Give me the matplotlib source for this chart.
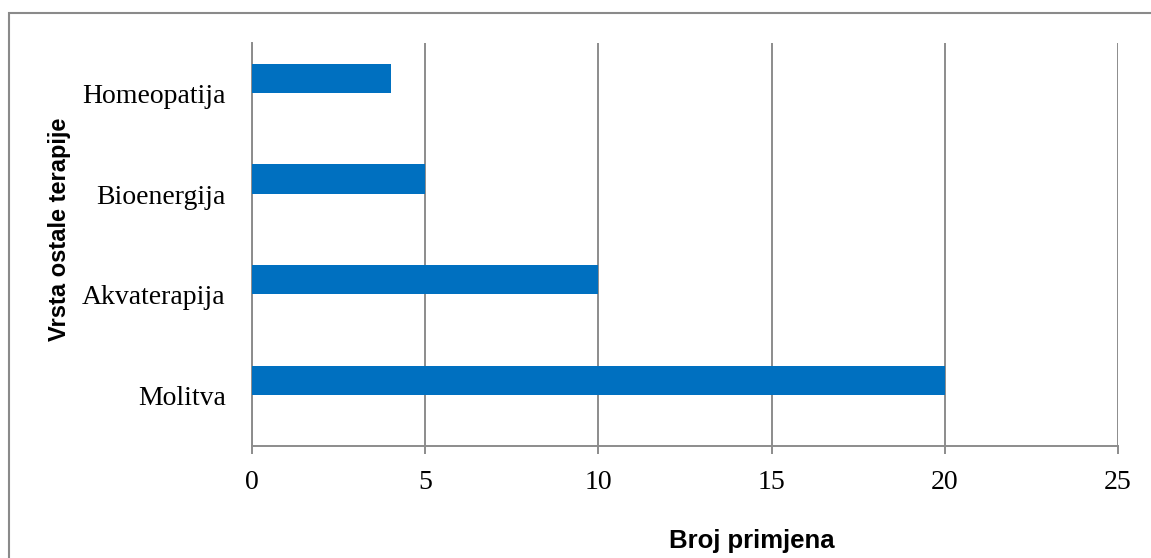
import matplotlib

matplotlib.use("Agg")
import matplotlib.pyplot as plt
from matplotlib.patches import Rectangle

W, H = 1151, 558

categories = ["Molitva", "Akvaterapija", "Bioenergija", "Homeopatija"]
counts = [20, 10, 5, 4]
x_ticks = [0, 5, 10, 15, 20, 25]

BAR_COLOR = "#0070C0"
GRID_COLOR = "#8c8c8c"
SERIF = ["Liberation Serif", "DejaVu Serif"]
SANS = ["Liberation Sans", "DejaVu Sans"]


def main():
    fig = plt.figure(figsize=(W / 100, H / 100), dpi=100)
    fig.patch.set_facecolor("white")

    # outer chart border (runs off right and bottom edges)
    top = 1 - 13.5 / H
    fig.add_artist(Rectangle(
        (8.5 / W, -0.05), 1.2, top + 0.05,
        transform=fig.transFigure, fill=False,
        edgecolor="#8a8a8a", linewidth=1.5, zorder=0,
    ))

    ax = fig.add_axes([252 / W, 1 - 446 / H, (1118 - 252) / W, (446 - 43) / H])
    ypos = list(range(len(categories)))
    # bars sit a little above the category centre (as in the original chart)
    ax.barh([p + 0.15 for p in ypos], counts, height=0.29, color=BAR_COLOR, zorder=3)

    ax.set_xlim(0, 25)
    ax.set_ylim(-0.5, len(categories) - 0.5)
    ax.set_xticks(x_ticks)
    ax.set_yticks(ypos)
    ax.set_yticklabels(categories)
    ax.xaxis.grid(True, color=GRID_COLOR, linewidth=1.4, zorder=0)
    ax.set_axisbelow(True)

    for side in ["top", "right"]:
        ax.spines[side].set_visible(False)
    for side in ["left", "bottom"]:
        ax.spines[side].set_color(GRID_COLOR)
        ax.spines[side].set_linewidth(1.4)

    ax.tick_params(axis="x", length=6, width=1.4, color=GRID_COLOR, pad=11)
    ax.tick_params(axis="y", length=0, pad=19)
    for lab in ax.get_xticklabels() + ax.get_yticklabels():
        lab.set_family(SERIF)
        lab.set_fontsize(20)
        lab.set_color("black")

    fig.text(752 / W, 1 - 541 / H, "Broj primjena", ha="center", va="center",
             fontsize=18.5, fontweight="bold", family=SANS)
    fig.text(60 / W, 1 - 229 / H, "Vrsta ostale terapije", ha="center", va="center",
             rotation=90, fontsize=17, fontweight="bold", family=SANS)

    fig.savefig("out.png", dpi=100, facecolor="white")
    plt.close(fig)


if __name__ == "__main__":
    main()
